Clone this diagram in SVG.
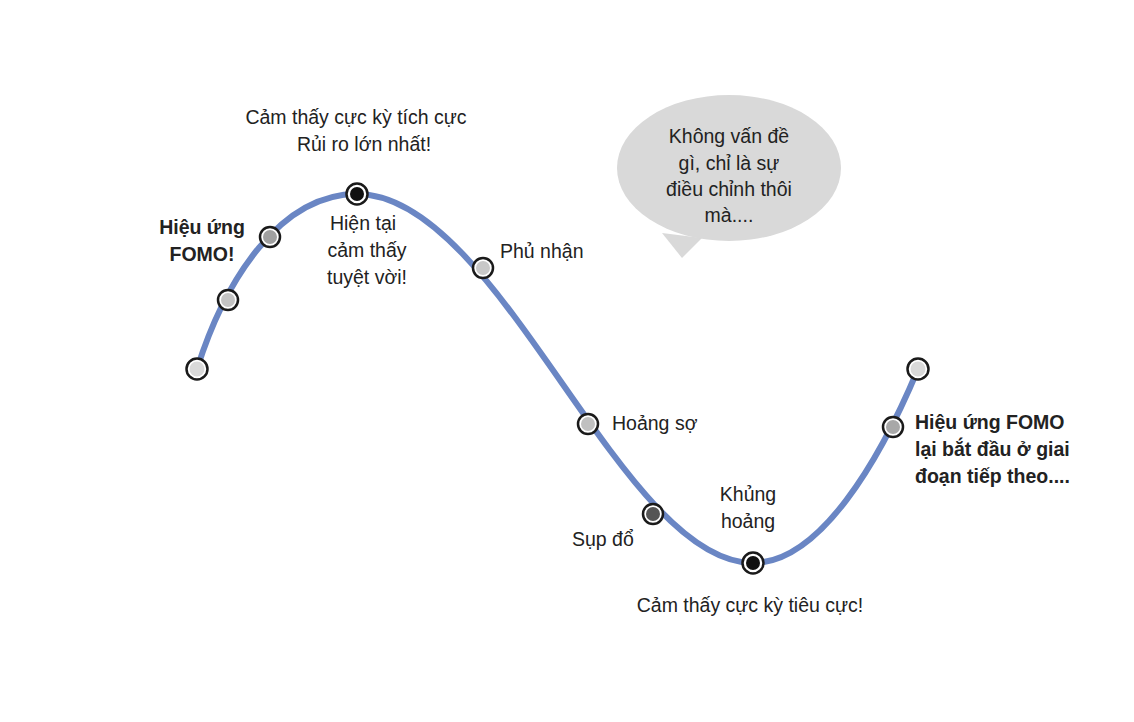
<svg xmlns="http://www.w3.org/2000/svg" width="1134" height="722" viewBox="0 0 1134 722">
<style>
text{font-family:"Liberation Sans","Noto Sans",sans-serif;font-size:19.5px;fill:#222}
.b{font-weight:bold}
.m{text-anchor:middle}
.ring{fill:#fff;stroke:#1a1a1a;stroke-width:2.5}
</style>
<rect width="1134" height="722" fill="#fff"/>
<g id="connectors">
<path d="M197,369 C225,280 280,194 357,194 C500,194 620,563 753,563 C820,563 880,460 918,369" fill="none" stroke="#6a86c4" stroke-width="6" stroke-linecap="round"/>
</g>
<g id="bubble">
<path d="M662,233 L682,258 L702,238 Z" fill="#d9d9d9"/>
<ellipse cx="729" cy="168" rx="112" ry="73" fill="#d9d9d9"/>
<text class="m" x="729" y="143">Không vấn đề</text>
<text class="m" x="729" y="170">gì, chỉ là sự</text>
<text class="m" x="729" y="196">điều chỉnh thôi</text>
<text class="m" x="729" y="222">mà....</text>
</g>
<g id="n1"><circle class="ring" cx="197" cy="369" r="10.5"/><circle cx="197" cy="369" r="7.5" fill="#d9d9d9"/></g>
<g id="n2"><circle class="ring" cx="228" cy="300" r="10"/><circle cx="228" cy="300" r="7" fill="#c4c4c4"/></g>
<g id="n3"><circle class="ring" cx="270" cy="237" r="10"/><circle cx="270" cy="237" r="7" fill="#a0a0a0"/>
<text class="b m" x="202" y="234">Hiệu ứng</text><text class="b m" x="202" y="261">FOMO!</text></g>
<g id="n4"><circle class="ring" cx="357" cy="194" r="10.5"/><circle cx="357" cy="194" r="7" fill="#111"/>
<text class="m" x="356" y="124">Cảm thấy cực kỳ tích cực</text>
<text class="m" x="364" y="151">Rủi ro lớn nhất!</text>
<text class="m" x="363" y="230">Hiện tại</text>
<text class="m" x="367" y="257">cảm thấy</text>
<text class="m" x="367" y="284">tuyệt vời!</text></g>
<g id="n5"><circle class="ring" cx="483" cy="268" r="10"/><circle cx="483" cy="268" r="7" fill="#c8c8c8"/>
<text x="500" y="258">Phủ nhận</text></g>
<g id="n6"><circle class="ring" cx="588" cy="424" r="10"/><circle cx="588" cy="424" r="7" fill="#c0c0c0"/>
<text x="612" y="430">Hoảng sợ</text></g>
<g id="n7"><circle class="ring" cx="653" cy="514" r="10"/><circle cx="653" cy="514" r="7" fill="#555"/>
<text x="572" y="546">Sụp đổ</text></g>
<g id="n8"><circle class="ring" cx="753" cy="563" r="10.5"/><circle cx="753" cy="563" r="7" fill="#111"/>
<text class="m" x="748" y="501">Khủng</text>
<text class="m" x="748" y="528">hoảng</text>
<text class="m" x="750" y="612">Cảm thấy cực kỳ tiêu cực!</text></g>
<g id="n9"><circle class="ring" cx="893" cy="427" r="10"/><circle cx="893" cy="427" r="7" fill="#a8a8a8"/>
<text class="b" x="915" y="429">Hiệu ứng FOMO</text>
<text class="b" x="915" y="456">lại bắt đầu ở giai</text>
<text class="b" x="915" y="483">đoạn tiếp theo....</text></g>
<g id="n10"><circle class="ring" cx="918" cy="369" r="10.5"/><circle cx="918" cy="369" r="7.5" fill="#d9d9d9"/></g>
</svg>
